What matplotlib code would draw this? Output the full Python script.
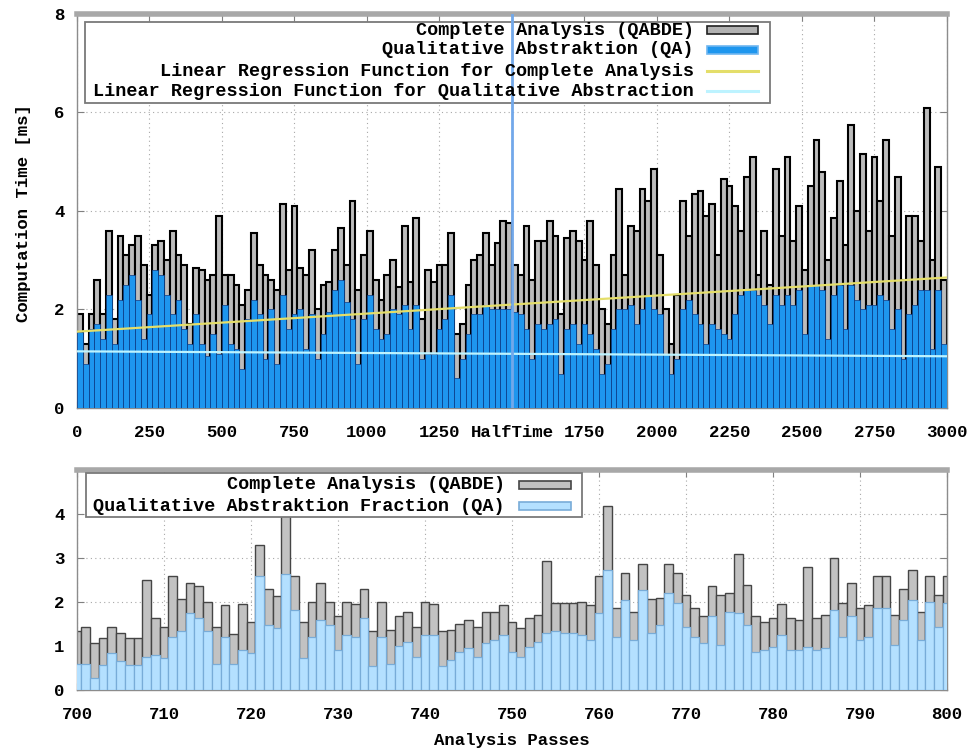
import matplotlib
matplotlib.use("Agg")
import matplotlib.pyplot as plt
from matplotlib.patches import Rectangle
from matplotlib.lines import Line2D
import numpy as np

plt.rcParams['font.family'] = ['Liberation Mono', 'DejaVu Sans Mono']
plt.rcParams['font.weight'] = 'bold'
plt.rcParams['axes.labelweight'] = 'bold'

# computation time per analysis pass, averaged into bins of 20 passes (0..3000)
bin_width = 20
complete_time = [
    1.9, 1.3, 1.9, 2.6, 1.9, 3.6, 1.8, 3.5, 3.1, 3.3,
    3.5, 2.9, 2.3, 3.3, 3.4, 3.0, 3.6, 3.1, 2.9, 1.7,
    2.85, 2.8, 2.6, 2.7, 3.9, 2.7, 2.7, 2.5, 2.1, 2.4,
    3.55, 2.9, 2.7, 2.6, 2.4, 4.15, 2.8, 4.1, 2.85, 2.7,
    3.2, 2.0, 2.5, 2.55, 3.2, 3.65, 2.9, 4.2, 2.4, 3.1,
    3.6, 2.6, 2.2, 2.7, 3.0, 2.45, 3.7, 2.55, 3.85, 1.8,
    2.8, 2.55, 2.9, 2.9, 3.55, 1.5, 1.7, 2.5, 3.0, 3.1,
    3.55, 2.9, 3.35, 3.8, 3.75, 2.9, 2.7, 3.7, 2.6, 3.4,
    3.4, 3.8, 3.5, 1.9, 3.45, 3.6, 3.4, 3.0, 3.8, 2.9,
    2.0, 1.7, 3.1, 4.45, 2.7, 3.7, 3.6, 4.45, 4.2, 4.85,
    3.1, 2.0, 1.3, 2.3, 4.2, 3.5, 4.35, 4.4, 3.9, 4.15,
    3.1, 4.65, 4.5, 4.1, 3.6, 4.7, 5.1, 2.7, 3.6, 2.5,
    4.85, 3.5, 5.1, 3.4, 4.1, 2.8, 4.5, 5.45, 4.8, 3.0,
    3.85, 4.6, 3.3, 5.75, 4.0, 5.15, 3.6, 5.1, 4.2, 5.45,
    3.5, 4.7, 2.6, 3.9, 3.9, 3.4, 6.1, 3.0, 4.9, 2.6,
]
qa_time = [
    1.55, 0.9, 1.6, 1.7, 1.4, 2.3, 1.3, 2.2, 2.5, 2.7,
    2.2, 1.4, 1.9, 2.8, 2.7, 2.3, 1.9, 2.2, 1.6, 1.3,
    1.9, 1.3, 1.05, 1.5, 1.1, 2.1, 1.3, 1.2, 0.8, 1.8,
    2.2, 1.9, 1.0, 2.0, 0.9, 2.3, 1.6, 1.9, 2.0, 1.2,
    1.9, 1.0, 1.5, 1.95, 2.4, 2.6, 2.15, 1.8, 0.9, 1.8,
    2.3, 1.6, 1.4, 1.5, 2.0, 1.9, 2.1, 1.6, 2.1, 1.0,
    1.1, 1.1, 1.6, 1.8, 2.3, 0.6, 1.0, 1.5, 1.9, 1.9,
    2.1, 2.0, 2.0, 2.0, 2.0, 1.95, 1.9, 1.6, 1.0, 1.7,
    1.6, 1.7, 1.8, 0.7, 1.6, 1.7, 1.3, 1.7, 1.5, 1.2,
    0.7, 0.9, 1.6, 2.0, 2.0, 2.1, 1.7, 2.0, 2.3, 2.0,
    1.9, 1.1, 0.7, 1.0, 2.0, 2.2, 1.9, 1.7, 1.3, 1.7,
    1.6, 1.5, 1.4, 1.9, 2.3, 2.4, 2.4, 2.3, 2.1, 1.7,
    2.3, 2.1, 2.3, 2.1, 2.4, 1.5, 2.5, 2.5, 2.4, 1.4,
    2.3, 2.5, 1.6, 2.5, 2.2, 2.0, 2.1, 2.1, 2.3, 2.2,
    1.6, 2.0, 1.0, 1.9, 2.1, 2.4, 2.4, 1.2, 2.4, 1.3,
]

# linear regression lines, given by their values at the first and last pass
fit_passes = [0, 3000]
complete_fit = [1.55, 2.65]
qa_fit = [1.15, 1.05]
halftime_pass = 1500

top_xticks = [0, 250, 500, 750, 1000, 1250, 1500, 1750, 2000, 2250, 2500, 2750, 3000]
top_xlabels = ['0', '250', '500', '750', '1000', '1250', 'HalfTime',
               '1750', '2000', '2250', '2500', '2750', '3000']
top_yticks = [0, 2, 4, 6, 8]

# single passes 700..800
zoom_passes = list(range(700, 801))
zoom_complete = [
    1.33, 1.42, 1.06, 1.19, 1.44, 1.29, 1.19, 1.19, 2.5, 1.63,
    1.42, 2.58, 2.06, 2.44, 2.36, 2.0, 1.42, 1.93, 1.27, 1.95,
    1.55, 3.3, 2.29, 2.14, 4.15, 2.59, 1.55, 2.0, 2.42, 2.0,
    1.67, 2.0, 1.95, 2.29, 1.33, 2.0, 1.36, 1.67, 1.78, 1.42,
    2.0, 1.95, 1.33, 1.36, 1.5, 1.58, 1.44, 1.78, 1.78, 1.93,
    1.55, 1.4, 1.63, 1.7, 2.94, 1.97, 1.98, 1.97, 2.0, 1.93,
    2.59, 4.17, 1.86, 2.65, 1.78, 2.86, 2.06, 2.08, 2.86, 2.65,
    2.16, 1.86, 1.68, 2.36, 2.16, 2.21, 3.1, 2.39, 1.67, 1.55,
    1.63, 1.95, 1.63, 1.6, 2.8, 1.63, 1.7, 3.0, 1.97, 2.42,
    1.86, 1.93, 2.58, 2.58, 1.7, 2.29, 2.73, 1.78, 2.58, 2.16, 2.58,
]
zoom_qa = [
    0.6, 0.6, 0.27, 0.57, 0.85, 0.65, 0.57, 0.57, 0.76, 0.8,
    0.72, 1.21, 1.33, 1.74, 1.63, 1.33, 0.6, 1.2, 0.6, 0.9,
    0.83, 2.6, 1.48, 1.4, 2.63, 1.82, 0.72, 1.2, 1.6, 1.48,
    0.9, 1.26, 1.2, 1.63, 0.55, 1.2, 0.6, 1.0, 1.1, 0.75,
    1.25, 1.25, 0.55, 0.68, 0.87, 0.95, 0.75, 1.06, 1.13, 1.25,
    0.87, 0.75, 0.98, 1.1, 1.29, 1.33, 1.29, 1.29, 1.25, 1.14,
    1.74, 2.73, 1.21, 2.05, 1.14, 2.27, 1.29, 1.48, 2.2, 1.97,
    1.44, 1.21, 1.06, 1.67, 1.02, 1.78, 1.74, 1.48, 0.87, 0.9,
    0.98, 1.25, 0.9, 0.9, 0.98, 0.9, 0.95, 1.82, 1.21, 1.67,
    1.14, 1.21, 1.86, 1.86, 1.02, 1.6, 2.05, 1.14, 2.0, 1.44, 1.97,
]
zoom_xticks = list(range(700, 801, 10))
zoom_yticks = [0, 1, 2, 3, 4]

GRID = dict(linestyle=(0, (1, 3)), color='#a8a8a8', linewidth=0.8)
FS = 12.5      # tick labels
LEG_FS = 13.3  # legend entries and axis labels


def style_axes(ax, pad_x, pad_y):
    ax.set_axisbelow(True)
    ax.grid(True, **GRID)
    for side in ['left', 'right', 'bottom']:
        ax.spines[side].set_color('#8c8c8c')
        ax.spines[side].set_linewidth(1.0)
    ax.spines['top'].set_color('#a8a8a8')
    ax.spines['top'].set_linewidth(4)
    ax.tick_params(direction='in', length=5, width=0.8, color='#808080',
                   top=True, right=True, labelsize=FS)
    ax.tick_params(axis='x', pad=pad_x)
    ax.tick_params(axis='y', pad=pad_y)


def box_legend(ax, box, rows, text_x, samp_x, samp_h):
    x0, y0, x1, y1 = box
    ax.add_patch(Rectangle((x0, y0), x1 - x0, y1 - y0, transform=ax.transAxes,
                           facecolor='white', edgecolor='#7a7a7a',
                           linewidth=1.3, zorder=7))
    for label, kind, fc, ec, y in rows:
        ax.text(text_x, y, label, transform=ax.transAxes, ha='right',
                va='center', fontsize=LEG_FS, zorder=9)
        if kind == 'box':
            ax.add_patch(Rectangle((samp_x[0], y - samp_h / 2), samp_x[1] - samp_x[0],
                                   samp_h, transform=ax.transAxes, facecolor=fc,
                                   edgecolor=ec, linewidth=1.2, zorder=9))
        else:
            ax.add_line(Line2D(samp_x, [y, y], transform=ax.transAxes,
                               color=fc, linewidth=2.2, zorder=9))


fig = plt.figure(figsize=(9.68, 7.53), dpi=100)

# upper panel: all 3000 passes
ax1 = fig.add_axes([0.0795, 0.4582, 0.8988, 0.5232])
bin_left = np.arange(len(complete_time)) * bin_width
ax1.bar(bin_left, complete_time, width=bin_width, align='edge',
        color='#bcbcbc', edgecolor='black', linewidth=1.5, zorder=2)
ax1.bar(bin_left, qa_time, width=bin_width, align='edge',
        color='#1e96ee', edgecolor='#0b3a86', linewidth=0.5, zorder=3)
ax1.plot(fit_passes, qa_fit, color='#bdf3ff', linewidth=1.6, zorder=4)
ax1.plot(fit_passes, complete_fit, color='#e4de6a', linewidth=1.6, zorder=5)

box_legend(ax1, (0.009, 0.774, 0.797, 0.980), [
    ('Complete Analysis (QABDE)', 'box', '#b2b2b2', '#202020', 0.959),
    ('Qualitative Abstraktion (QA)', 'box', '#1e96ee', '#6fb6f0', 0.909),
    ('Linear Regression Function for Complete Analysis', 'line', '#e4de6a', None, 0.855),
    ('Linear Regression Function for Qualitative Abstraction', 'line', '#bdf3ff', None, 0.804),
], text_x=0.709, samp_x=[0.724, 0.783], samp_h=0.02)
ax1.axvline(halftime_pass, color='#72a8ea', linewidth=2, zorder=8)

ax1.set_xlim(0, 3000)
ax1.set_ylim(0, 8)
ax1.set_xticks(top_xticks, top_xlabels)
ax1.set_yticks(top_yticks)
style_axes(ax1, pad_x=12, pad_y=9)
fig.text(0.024, 0.717, 'Computation Time [ms]', rotation=90, ha='center',
         va='center', fontsize=LEG_FS - 0.8)

# lower panel: passes 700..800
ax2 = fig.add_axes([0.0795, 0.0837, 0.8988, 0.2922])
ax2.bar(zoom_passes, zoom_complete, width=1.0, color='#c2c2c2',
        edgecolor='#454545', linewidth=1.0, zorder=2)
ax2.bar(zoom_passes, zoom_qa, width=1.0, color='#b4e0ff',
        edgecolor='#78acd8', linewidth=0.9, zorder=3)

box_legend(ax2, (0.010, 0.786, 0.580, 0.986), [
    ('Complete Analysis (QABDE)', 'box', '#c2c2c2', '#454545', 0.932),
    ('Qualitative Abstraktion Fraction (QA)', 'box', '#b4e0ff', '#78acd8', 0.836),
], text_x=0.492, samp_x=[0.508, 0.568], samp_h=0.036)

ax2.set_xlim(700, 800)
ax2.set_ylim(0, 5)
ax2.set_xticks(zoom_xticks)
ax2.set_yticks(zoom_yticks)
style_axes(ax2, pad_x=12, pad_y=9)
ax2.set_xlabel('Analysis Passes', fontsize=LEG_FS - 0.8, labelpad=8)

fig.savefig('out.png', dpi=100, facecolor='white')
